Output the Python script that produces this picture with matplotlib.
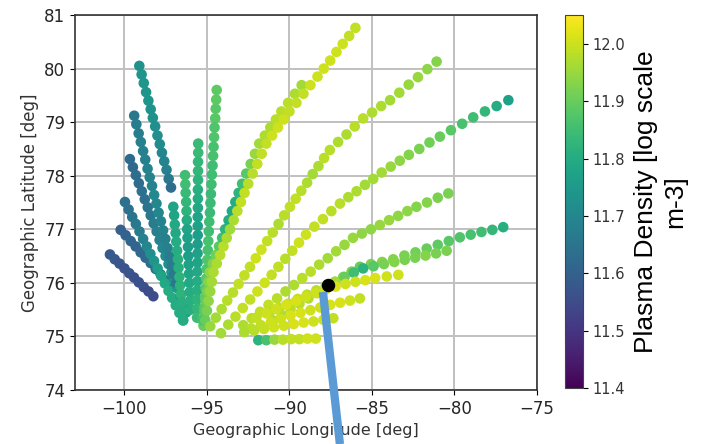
import numpy as np
import matplotlib.pyplot as plt

# gate positions along each radar beam (near gate first), geographic lon/lat
beam_lon = [
    [-100.88, -100.59, -100.30, -100.00, -99.71, -99.42, -99.13, -98.83, -98.54, -98.25],
    [-100.23, -99.93, -99.62, -99.32, -99.02, -98.72, -98.41, -98.11, -97.81, -97.50, -97.20],
    [-99.97, -99.75, -99.53, -99.31, -99.09, -98.87, -98.65, -98.43, -98.21, -97.99, -97.77,
     -97.55, -97.33, -97.11, -96.89, -96.67, -96.45],
    [-99.67, -99.49, -99.31, -99.13, -98.95, -98.77, -98.59, -98.41, -98.23, -98.05, -97.87,
     -97.69, -97.51, -97.33, -97.15, -96.97, -96.79, -96.61, -96.43, -96.25],
    [-99.41, -99.28, -99.14, -99.01, -98.87, -98.74, -98.60, -98.47, -98.33, -98.20, -98.06,
     -97.93, -97.79, -97.66, -97.52, -97.39, -97.25, -97.12, -96.98, -96.85],
    [-99.10, -98.96, -98.83, -98.69, -98.55, -98.41, -98.28, -98.14, -98.00, -97.86, -97.73,
     -97.59, -97.45, -97.32, -97.18],
    [-97.04, -96.99, -96.95, -96.90, -96.86, -96.81, -96.76, -96.72, -96.67, -96.63, -96.58,
     -96.53, -96.49, -96.44],
    [-96.33, -96.31, -96.29, -96.26, -96.24, -96.22, -96.20, -96.18, -96.15, -96.13, -96.11,
     -96.09, -96.07, -96.04, -96.02, -96.00],
    [-95.53, -95.53, -95.54, -95.54, -95.54, -95.55, -95.55, -95.55, -95.56, -95.56, -95.56,
     -95.57, -95.57, -95.57, -95.58, -95.58, -95.58, -95.59, -95.59, -95.60],
    [-94.41, -94.44, -94.47, -94.50, -94.54, -94.57, -94.60, -94.63, -94.66, -94.70, -94.73,
     -94.76, -94.79, -94.82, -94.86, -94.89, -94.92, -94.95, -94.98, -95.02, -95.05, -95.08,
     -95.11, -95.14, -95.18, -95.21],
    [-95.25, -95.16, -95.08, -94.99, -94.91, -94.82, -94.64, -94.45, -94.27, -94.08, -93.90,
     -93.69, -93.49, -93.28, -93.08, -92.87, -92.62, -92.35, -92.09, -91.83, -91.49, -91.16,
     -90.82, -90.49, -90.08, -89.67, -89.26],
    [-95.10, -95.00, -94.90, -94.80, -94.70, -94.60, -94.40, -94.20, -94.00, -93.80, -93.60,
     -93.38, -93.16, -92.94, -92.72, -92.50, -92.23, -91.95, -91.68, -91.40, -91.05, -90.70,
     -90.35, -90.00, -89.58, -89.15, -88.73, -88.30, -87.92, -87.53, -87.15, -86.77, -86.38,
     -86.00],
    [-94.80, -94.46, -94.11, -93.77, -93.42, -93.08, -92.73, -92.39, -92.04, -91.70, -91.35,
     -91.01, -90.66, -90.32, -89.97, -89.62, -89.28, -88.93, -88.59, -88.24, -87.90, -87.55,
     -87.05, -86.54, -86.04, -85.53, -84.99, -84.44, -83.90, -83.34, -82.77, -82.21, -81.64,
     -81.08],
    [-94.15, -93.71, -93.27, -92.83, -92.38, -91.94, -91.50, -91.08, -90.67, -90.25, -89.83,
     -89.42, -89.00, -88.49, -87.97, -87.46, -86.94, -86.43, -85.93, -85.42, -84.92, -84.41,
     -83.86, -83.31, -82.76, -82.13, -81.51, -80.88, -80.21, -79.53, -78.86, -78.15, -77.44,
     -76.73],
    [-92.80, -92.29, -91.78, -91.27, -90.75, -90.24, -89.73, -89.22, -88.71, -88.20, -87.68,
     -87.17, -86.66, -86.15, -85.61, -85.06, -84.52, -83.96, -83.41, -82.85, -82.30, -81.66,
     -81.01, -80.37],
    [-91.00, -90.46, -89.93, -89.39, -88.85, -88.31, -87.78, -87.24, -86.74, -86.23, -85.73,
     -85.06, -84.38, -83.71, -83.03, -82.36, -81.68, -81.01, -80.34, -79.67, -79.01, -78.36,
     -77.70, -77.04],
    [-91.20, -90.63, -90.07, -89.50, -88.93, -88.37, -87.80, -87.23, -86.66, -86.10, -85.53,
     -84.90, -84.27, -83.64, -83.01, -82.38, -81.75, -81.11, -80.47],
    [-92.00, -91.40, -90.80, -90.20, -89.60, -89.00, -88.40, -87.80, -87.20, -86.60, -86.00,
     -85.40, -84.80, -84.10, -83.40],
    [-92.33, -91.73, -91.13, -90.53, -89.93, -89.33, -88.73, -88.13, -87.53, -86.93, -86.33,
     -85.73],
    [-92.74, -92.14, -91.54, -90.94, -90.34, -89.74, -89.14, -88.54, -87.94, -87.34],
    [-91.89, -91.40, -90.90, -90.40, -89.90, -89.40, -88.90, -88.40],
]

beam_lat = [
    [76.53, 76.44, 76.36, 76.27, 76.18, 76.10, 76.01, 75.92, 75.84, 75.75],
    [76.99, 76.89, 76.78, 76.68, 76.57, 76.47, 76.37, 76.26, 76.16, 76.05, 75.95],
    [77.51, 77.37, 77.23, 77.10, 76.96, 76.82, 76.68, 76.54, 76.41, 76.27, 76.13, 75.99,
     75.85, 75.72, 75.58, 75.44, 75.30],
    [78.31, 78.16, 78.01, 77.86, 77.71, 77.56, 77.41, 77.26, 77.11, 76.96, 76.80, 76.65,
     76.50, 76.35, 76.20, 76.05, 75.90, 75.75, 75.60, 75.45],
    [79.12, 78.96, 78.79, 78.63, 78.46, 78.30, 78.13, 77.97, 77.81, 77.64, 77.48, 77.31,
     77.15, 76.98, 76.82, 76.65, 76.49, 76.32, 76.16, 76.00],
    [80.05, 79.89, 79.73, 79.56, 79.40, 79.24, 79.08, 78.92, 78.75, 78.59, 78.43, 78.27,
     78.11, 77.94, 77.78],
    [77.42, 77.26, 77.09, 76.93, 76.77, 76.60, 76.44, 76.28, 76.11, 75.95, 75.79, 75.63,
     75.46, 75.30],
    [78.01, 77.84, 77.68, 77.51, 77.34, 77.17, 77.00, 76.84, 76.67, 76.50, 76.34, 76.17,
     76.00, 75.83, 75.67, 75.50],
    [78.60, 78.43, 78.26, 78.09, 77.92, 77.74, 77.57, 77.40, 77.23, 77.06, 76.89, 76.72,
     76.55, 76.38, 76.21, 76.03, 75.86, 75.69, 75.52, 75.35],
    [79.60, 79.42, 79.25, 79.07, 78.90, 78.72, 78.54, 78.37, 78.19, 78.02, 77.84, 77.66,
     77.49, 77.31, 77.14, 76.96, 76.78, 76.61, 76.43, 76.26, 76.08, 75.90, 75.73, 75.55,
     75.38, 75.20],
    [75.30, 75.48, 75.66, 75.84, 76.02, 76.20, 76.36, 76.52, 76.68, 76.84, 77.00, 77.17,
     77.34, 77.51, 77.68, 77.85, 78.04, 78.22, 78.41, 78.60, 78.75, 78.90, 79.05, 79.20,
     79.36, 79.53, 79.69],
    [75.30, 75.48, 75.66, 75.84, 76.02, 76.20, 76.36, 76.52, 76.68, 76.84, 77.00, 77.17,
     77.34, 77.51, 77.68, 77.85, 78.04, 78.22, 78.41, 78.60, 78.75, 78.90, 79.05, 79.20,
     79.36, 79.53, 79.69, 79.85, 80.00, 80.15, 80.31, 80.46, 80.61, 80.76],
    [75.19, 75.35, 75.51, 75.67, 75.82, 75.98, 76.14, 76.30, 76.46, 76.62, 76.78, 76.94,
     77.10, 77.26, 77.42, 77.57, 77.72, 77.87, 78.03, 78.18, 78.33, 78.48, 78.63, 78.77,
     78.92, 79.07, 79.18, 79.30, 79.41, 79.55, 79.70, 79.84, 79.99, 80.13],
    [75.06, 75.22, 75.37, 75.53, 75.69, 75.84, 76.00, 76.15, 76.30, 76.45, 76.60, 76.75,
     76.90, 77.05, 77.19, 77.34, 77.48, 77.60, 77.71, 77.83, 77.94, 78.06, 78.17, 78.28,
     78.39, 78.50, 78.62, 78.73, 78.85, 78.97, 79.09, 79.20, 79.30, 79.41],
    [75.21, 75.34, 75.46, 75.59, 75.71, 75.84, 75.96, 76.09, 76.21, 76.34, 76.46, 76.59,
     76.71, 76.84, 76.92, 77.00, 77.08, 77.17, 77.25, 77.34, 77.42, 77.50, 77.59, 77.67],
    [75.30, 75.40, 75.51, 75.61, 75.71, 75.81, 75.92, 76.02, 76.11, 76.21, 76.30, 76.35,
     76.39, 76.44, 76.51, 76.57, 76.64, 76.71, 76.78, 76.85, 76.90, 76.95, 76.99, 77.04],
    [75.45, 75.53, 75.61, 75.70, 75.78, 75.86, 75.94, 76.02, 76.11, 76.19, 76.27, 76.31,
     76.35, 76.39, 76.43, 76.47, 76.51, 76.55, 76.60],
    [75.35, 75.43, 75.51, 75.59, 75.66, 75.74, 75.81, 75.88, 75.93, 75.98, 76.02, 76.05,
     76.09, 76.12, 76.15],
    [75.15, 75.21, 75.27, 75.33, 75.39, 75.44, 75.49, 75.54, 75.59, 75.63, 75.67, 75.71],
    [75.08, 75.11, 75.14, 75.17, 75.20, 75.23, 75.26, 75.28, 75.31, 75.34],
    [74.93, 74.93, 74.94, 74.94, 74.95, 74.95, 74.96, 74.96],
]

# log10 electron density per gate
beam_ne = [
    [11.58, 11.58, 11.57, 11.57, 11.57, 11.56, 11.56, 11.56, 11.55, 11.55],
    [11.60, 11.60, 11.61, 11.61, 11.62, 11.62, 11.63, 11.64, 11.65, 11.66, 11.68],
    [11.64, 11.64, 11.65, 11.66, 11.67, 11.68, 11.70, 11.72, 11.74, 11.76, 11.78, 11.79,
     11.80, 11.80, 11.80, 11.80, 11.79],
    [11.62, 11.62, 11.63, 11.63, 11.64, 11.64, 11.65, 11.66, 11.67, 11.68, 11.69, 11.70,
     11.71, 11.72, 11.73, 11.74, 11.75, 11.76, 11.76, 11.77],
    [11.66, 11.67, 11.67, 11.68, 11.68, 11.68, 11.69, 11.69, 11.69, 11.70, 11.70, 11.70,
     11.69, 11.69, 11.68, 11.68, 11.67, 11.67, 11.66, 11.66],
    [11.73, 11.74, 11.74, 11.74, 11.74, 11.73, 11.73, 11.72, 11.72, 11.71, 11.70, 11.69,
     11.68, 11.66, 11.63],
    [11.78, 11.78, 11.79, 11.79, 11.80, 11.80, 11.81, 11.81, 11.82, 11.82, 11.82, 11.81,
     11.80, 11.80],
    [11.85, 11.85, 11.84, 11.83, 11.82, 11.80, 11.78, 11.77, 11.76, 11.76, 11.77, 11.78,
     11.79, 11.80, 11.81, 11.81],
    [11.84, 11.84, 11.83, 11.83, 11.82, 11.81, 11.80, 11.79, 11.78, 11.77, 11.76, 11.76,
     11.77, 11.78, 11.79, 11.80, 11.81, 11.82, 11.83, 11.84],
    [11.89, 11.89, 11.88, 11.88, 11.87, 11.87, 11.86, 11.86, 11.85, 11.85, 11.85, 11.84,
     11.84, 11.84, 11.85, 11.85, 11.86, 11.86, 11.87, 11.87, 11.88, 11.88, 11.89, 11.89,
     11.90, 11.90],
    [11.86, 11.88, 11.90, 11.92, 11.93, 11.94, 11.93, 11.91, 11.88, 11.85, 11.82, 11.80,
     11.79, 11.80, 11.82, 11.85, 11.88, 11.92, 11.95, 11.96, 11.97, 11.97, 11.98, 11.98,
     11.98, 11.97, 11.96],
    [11.90, 11.92, 11.94, 11.95, 11.96, 11.97, 11.97, 11.98, 11.98, 11.97, 11.96, 11.97,
     11.98, 11.99, 11.99, 11.98, 11.98, 11.99, 11.99, 11.99, 12.00, 12.00, 12.00, 11.99,
     11.99, 11.99, 12.00, 12.00, 12.00, 12.00, 12.00, 12.00, 11.99, 11.99],
    [11.95, 11.96, 11.97, 11.98, 11.98, 11.99, 11.99, 11.99, 12.00, 12.00, 11.99, 11.98,
     11.97, 11.98, 11.99, 11.99, 11.98, 11.97, 11.96, 11.97, 11.98, 11.98, 11.97, 11.97,
     11.98, 11.98, 11.97, 11.97, 11.96, 11.96, 11.95, 11.95, 11.94, 11.93],
    [11.96, 11.97, 11.98, 11.99, 11.99, 12.00, 12.00, 11.99, 11.99, 11.98, 11.99, 12.00,
     12.00, 11.99, 11.99, 11.98, 11.98, 11.97, 11.97, 11.96, 11.96, 11.96, 11.95, 11.94,
     11.93, 11.92, 11.91, 11.90, 11.88, 11.86, 11.85, 11.83, 11.80, 11.77],
    [11.97, 11.98, 11.99, 11.99, 11.98, 11.97, 11.97, 11.98, 11.98, 11.97, 11.96, 11.96,
     11.95, 11.95, 11.94, 11.94, 11.95, 11.95, 11.94, 11.94, 11.93, 11.93, 11.92, 11.92],
    [11.97, 11.97, 11.98, 11.98, 11.97, 11.96, 11.95, 11.94, 11.93, 11.92, 11.90, 11.92,
     11.93, 11.93, 11.92, 11.91, 11.90, 11.89, 11.88, 11.87, 11.86, 11.85, 11.83, 11.81],
    [11.98, 11.98, 11.99, 11.99, 11.98, 11.98, 11.97, 11.96, 11.90, 11.85, 11.82, 11.88,
     11.92, 11.93, 11.92, 11.92, 11.93, 11.92, 11.92],
    [11.99, 12.00, 12.00, 12.01, 12.01, 12.00, 12.00, 12.01, 12.01, 12.00, 12.00, 12.01,
     12.01, 12.00, 12.00],
    [11.98, 11.99, 12.00, 12.00, 12.01, 12.01, 12.00, 12.00, 12.01, 12.01, 12.00, 11.99],
    [11.97, 11.98, 11.99, 12.00, 12.00, 12.01, 12.01, 12.00, 12.00, 11.99],
    [11.82, 11.86, 11.95, 11.98, 11.99, 11.99, 12.00, 12.00],
]

# conjunction point and the callout leading off the plot
event_lon = -87.65
event_lat = 75.96
callout_lon = [-87.97, -86.94]
callout_lat = [75.83, 72.99]

ne_ticks = [11.4, 11.5, 11.6, 11.7, 11.8, 11.9, 12.0]

fig = plt.figure(figsize=(7.02, 4.44), dpi=100)
ax = fig.add_axes([0.1068, 0.1216, 0.658, 0.8446])
cax = fig.add_axes([0.8048, 0.126, 0.0256, 0.84])

lon = np.concatenate([np.asarray(b) for b in beam_lon])
lat = np.concatenate([np.asarray(b) for b in beam_lat])
ne = np.concatenate([np.asarray(b) for b in beam_ne])

sc = ax.scatter(lon, lat, c=ne, cmap='viridis', vmin=11.4, vmax=12.05,
                s=58, linewidths=0, zorder=3)

ax.plot(callout_lon, callout_lat, color='#5b9bd5', lw=6, clip_on=False,
        solid_capstyle='butt', zorder=6)
ax.scatter([event_lon], [event_lat], color='black', s=75, zorder=7)

ax.set_xlim(-103, -75)
ax.set_ylim(74, 81)
ax.set_xticks([-100, -95, -90, -85, -80, -75])
ax.set_yticks(range(74, 82))
ax.grid(True, color='#c0c0c0', lw=1.4)
ax.set_axisbelow(True)
ax.tick_params(labelsize=12, labelcolor='#262626')
for sp in ax.spines.values():
    sp.set_color('#333333')
    sp.set_linewidth(1.2)
ax.set_xlabel('Geographic Longitude [deg]', fontsize=11.5, color='#333333')
ax.set_ylabel('Geographic Latitude [deg]', fontsize=12, color='#333333')

cb = fig.colorbar(sc, cax=cax)
cb.set_ticks(ne_ticks)
cb.ax.set_yticklabels([f'{t:.1f}' for t in ne_ticks])
cb.ax.tick_params(labelsize=10.5, labelcolor='#333333')
cb.outline.set_edgecolor('#444444')
cb.set_label('Plasma Density [log scale\nm-3]', fontsize=19,
             family='Liberation Sans', linespacing=1.3, labelpad=6)

fig.savefig('out.png', dpi=100)
